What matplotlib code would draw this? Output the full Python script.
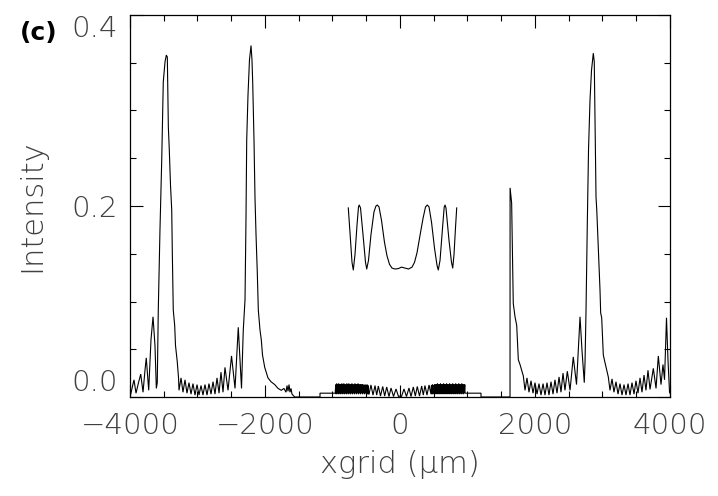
import matplotlib
matplotlib.use('Agg')
import matplotlib.pyplot as plt
import numpy as np
from matplotlib.ticker import MultipleLocator

# ---------------- data (x in µm, intensity) -------------
# left edge + first peak
xA = [-4000, -3993, -3970, -3941, -3911, -3874, -3841, -3807, -3778, -3759, -3723,
      -3689, -3659, -3630, -3610, -3596, -3581, -3556, -3530, -3507, -3481, -3462,
      -3447, -3432, -3418, -3400, -3382, -3373, -3359, -3338, -3326, -3300, -3281]
yA = [0.004, 0.002, 0.009, 0.018, 0.004, 0.015, 0.024, 0.005, 0.028, 0.041, 0.007,
      0.060, 0.084, 0.054, 0.009, 0.015, 0.091, 0.175, 0.248, 0.330, 0.351, 0.358,
      0.356, 0.283, 0.259, 0.222, 0.196, 0.151, 0.091, 0.075, 0.054, 0.037, 0.020]

# ripples between first and second peak
xB = [-3274, -3244, -3215, -3185, -3156, -3126, -3096, -3067, -3037, -3007, -2978,
      -2948, -2919, -2889, -2859, -2830, -2800, -2770, -2741, -2711, -2681, -2652,
      -2622, -2593, -2548, -2496, -2444, -2396, -2348]
yB = [0.007, 0.020, 0.005, 0.018, 0.004, 0.015, 0.003, 0.014, 0.002, 0.013, 0.002,
      0.012, 0.002, 0.013, 0.002, 0.014, 0.003, 0.016, 0.003, 0.020, 0.004, 0.026,
      0.005, 0.031, 0.007, 0.043, 0.009, 0.073, 0.009]

# second peak and its tail
xC = [-2322, -2296, -2281, -2271, -2252, -2230, -2207, -2193, -2182, -2163, -2148,
      -2133, -2114, -2099, -2074, -2055, -2037, -2004, -1956, -1911, -1856, -1807,
      -1759, -1719, -1689, -1674, -1659, -1644, -1630, -1615, -1600, -1560, -1541,
      -1185]
yC = [0.070, 0.102, 0.191, 0.269, 0.316, 0.353, 0.368, 0.353, 0.329, 0.269, 0.208,
      0.170, 0.130, 0.091, 0.070, 0.060, 0.044, 0.031, 0.020, 0.016, 0.013, 0.009,
      0.007, 0.009, 0.005, 0.012, 0.006, 0.013, 0.005, 0.009, 0.003, 0.000, 0.000,
      0.000]

# central structure: step + dense fringes (left)
xD1 = [-1185, -1185, -963,
       -960, -952, -945, -938, -930, -922, -915, -908, -900, -892, -885, -878,
       -870, -862, -855, -848, -840, -832, -825, -818, -810, -802, -795, -788,
       -780, -772, -765, -758, -750, -742, -735, -728, -720, -712, -705, -698,
       -690, -682, -675, -668, -660, -652, -645, -638, -630, -622, -615, -608,
       -600, -592, -585, -578, -570, -562, -555, -548, -540, -532, -525, -518,
       -510, -502, -495, -488, -480, -472, -465]
yD1 = [0.000, 0.004, 0.004,
       0.004, 0.013, 0.003, 0.014, 0.004, 0.013, 0.003, 0.014, 0.004, 0.013,
       0.003, 0.013, 0.004, 0.014, 0.003, 0.013, 0.004, 0.014, 0.003, 0.013,
       0.004, 0.013, 0.003, 0.014, 0.004, 0.013, 0.003, 0.014, 0.004, 0.013,
       0.003, 0.013, 0.004, 0.014, 0.003, 0.013, 0.004, 0.013, 0.003, 0.014,
       0.004, 0.013, 0.003, 0.013, 0.004, 0.014, 0.003, 0.013, 0.004, 0.013,
       0.003, 0.013, 0.004, 0.013, 0.003, 0.013, 0.004, 0.012, 0.003, 0.013,
       0.004, 0.012, 0.003, 0.013, 0.003, 0.012, 0.003]
# resolved fringes around the centre
xD2 = [-459, -430, -400, -370, -345, -321, -289, -256, -227, -197, -163, -133, -96,
       -59, -22, 0, 22, 59, 96, 133, 163, 197, 227, 256, 289, 321, 345, 370, 400,
       430, 459]
yD2 = [0.003, 0.0126, 0.002, 0.012, 0.002, 0.0115, 0.001, 0.011, 0.001, 0.0105,
       0.0005, 0.0094, 0.0005, 0.0084, 0.0005, 0.001, 0.0005, 0.0084, 0.0005,
       0.0094, 0.0005, 0.0105, 0.001, 0.011, 0.001, 0.0115, 0.002, 0.012, 0.002,
       0.0126, 0.003]
# dense fringes (right) + step
xD3 = [465, 472, 480, 488, 495, 502, 510, 518, 525, 532, 540, 548, 555, 562, 570,
       578, 585, 592, 600, 608, 615, 622, 630, 638, 645, 652, 660, 668, 675, 682,
       690, 698, 705, 712, 720, 728, 735, 742, 750, 758, 765, 772, 780, 788, 795,
       802, 810, 818, 825, 832, 840, 848, 855, 862, 870, 878, 885, 892, 900, 908,
       915, 922, 930, 938, 945, 952, 960,
       963, 1200, 1200, 1630]
yD3 = [0.012, 0.003, 0.013, 0.003, 0.012, 0.004, 0.013, 0.003, 0.013, 0.004, 0.013,
       0.003, 0.014, 0.004, 0.013, 0.003, 0.013, 0.004, 0.014, 0.003, 0.013, 0.004,
       0.013, 0.003, 0.014, 0.004, 0.013, 0.003, 0.013, 0.004, 0.014, 0.003, 0.013,
       0.004, 0.013, 0.003, 0.014, 0.004, 0.013, 0.003, 0.013, 0.004, 0.014, 0.003,
       0.013, 0.004, 0.013, 0.003, 0.014, 0.004, 0.013, 0.003, 0.013, 0.004, 0.014,
       0.003, 0.013, 0.004, 0.013, 0.003, 0.014, 0.004, 0.013, 0.003, 0.013, 0.004,
       0.013,
       0.004, 0.004, 0.000, 0.000]

# sharp edge peak, ripples, third peak, ripples to right edge
xE = [1631, 1654, 1667, 1678, 1704, 1729, 1753, 1778, 1827,
      1852, 1881, 1911, 1941, 1970, 2000, 2030, 2059, 2089, 2119, 2148, 2178, 2207,
      2237, 2267, 2296, 2326, 2356, 2385, 2415, 2444, 2479, 2519, 2567, 2615, 2667,
      2696, 2730]
yE = [0.219, 0.203, 0.143, 0.098, 0.084, 0.075, 0.039, 0.034, 0.022,
      0.007, 0.020, 0.005, 0.017, 0.004, 0.015, 0.003, 0.014, 0.002, 0.014, 0.002,
      0.015, 0.002, 0.016, 0.003, 0.018, 0.004, 0.021, 0.005, 0.025, 0.007, 0.027,
      0.007, 0.042, 0.013, 0.084, 0.049, 0.015]

xF = [2741, 2756, 2766, 2775, 2793, 2815, 2837, 2864, 2878, 2889, 2904, 2915, 2933,
      2963, 2973, 2988, 3012, 3037, 3086,
      3111, 3141, 3170, 3200, 3230, 3259, 3289, 3319, 3348, 3378, 3407, 3437, 3467,
      3496, 3526, 3556, 3585, 3615, 3644, 3674, 3704, 3753, 3793, 3827, 3867, 3896,
      3919, 3948, 3970, 3993, 4000]
yF = [0.036, 0.091, 0.143, 0.182, 0.259, 0.311, 0.342, 0.360, 0.351, 0.290, 0.209,
      0.196, 0.164, 0.112, 0.088, 0.083, 0.044, 0.036, 0.021,
      0.007, 0.019, 0.005, 0.016, 0.003, 0.014, 0.002, 0.013, 0.002, 0.014, 0.002,
      0.015, 0.003, 0.017, 0.004, 0.020, 0.005, 0.023, 0.007, 0.028, 0.008, 0.030,
      0.009, 0.043, 0.013, 0.034, 0.018, 0.083, 0.039, 0.005, 0.004]

# magnified central fringe pattern drawn inside the plot
inset_x = [-766, -733, -711, -692, -667, -637, -615, -604, -585, -548, -511, -493,
           -467, -430, -385, -356, -336, -311, -274, -230, -193, -156, -119, -74,
           -22, 22, 74, 126, 178, 215, 252, 296, 341, 378, 404, 430, 467, 511, 548,
           567, 593, 630, 655, 667, 681, 726, 763, 781, 800, 822, 840]
inset_y = [0.198, 0.164, 0.141, 0.133, 0.149, 0.180, 0.199, 0.201, 0.198, 0.170,
           0.141, 0.134, 0.143, 0.170, 0.194, 0.200, 0.201, 0.199, 0.185, 0.162,
           0.148, 0.139, 0.135, 0.134, 0.1345, 0.136, 0.135, 0.134, 0.136, 0.141,
           0.151, 0.169, 0.187, 0.199, 0.201, 0.199, 0.183, 0.156, 0.138, 0.133,
           0.143, 0.177, 0.199, 0.201, 0.198, 0.164, 0.141, 0.135, 0.149, 0.177,
           0.198]

xtick_vals = [-4000, -2000, 0, 2000, 4000]
xtick_labels = ['\u22124000', '\u22122000', '0', '2000', '4000']
ytick_vals = [0.0, 0.2, 0.4]
ytick_labels = ['0.0', '0.2', '0.4']

# ---------------- figure -------------------------------------------------------
plt.rcParams['font.family'] = ['DejaVu Sans']
txt_col = '#404040'
light = 200

fig = plt.figure(figsize=(7.18, 4.96), dpi=100)
ax = fig.add_axes([130 / 718, 99 / 496, 540 / 718, 382 / 496])

main_x = np.concatenate([xA, xB, xC, xD1, xD2, xD3, xE, xF])
main_y = np.concatenate([yA, yB, yC, yD1, yD2, yD3, yE, yF])
ax.plot(main_x, main_y, color='black', lw=0.8, solid_joinstyle='miter')
ax.plot(inset_x, inset_y, color='black', lw=0.8)

ax.set_xlim(-4000, 4000)
ax.set_ylim(0, 0.4)
ax.set_xticks(xtick_vals)
ax.set_xticklabels(xtick_labels, fontweight=light)
ax.set_yticks(ytick_vals)
ax.set_yticklabels(ytick_labels, fontweight=light)
ax.xaxis.set_minor_locator(MultipleLocator(500))
ax.yaxis.set_minor_locator(MultipleLocator(0.05))
ax.tick_params(which='both', direction='in', top=True, right=True, width=0.8,
               colors='black', labelcolor=txt_col, labelsize=21)
ax.tick_params(which='major', length=9)
ax.tick_params(which='minor', length=4.5)
ax.tick_params(axis='x', which='major', pad=11)
ax.tick_params(axis='y', which='major', pad=9)
for sp in ax.spines.values():
    sp.set_linewidth(0.9)

ylabs = ax.get_yticklabels()
ylabs[0].set_va('bottom')
ylabs[2].set_va('top')

ax.set_xlabel('xgrid (\u00b5m)', fontsize=22, color=txt_col, fontweight=light)
ax.set_ylabel('Intensity', fontsize=22, color=txt_col, fontweight=light)
ax.xaxis.set_label_coords(0.5, -0.14)
ax.yaxis.set_label_coords(-0.155, 0.5)

fig.text(20 / 718, 1 - 33 / 496, '(c)', fontsize=18, fontweight='bold',
         color='black', va='center', ha='left')

fig.savefig('out.png', dpi=100)
